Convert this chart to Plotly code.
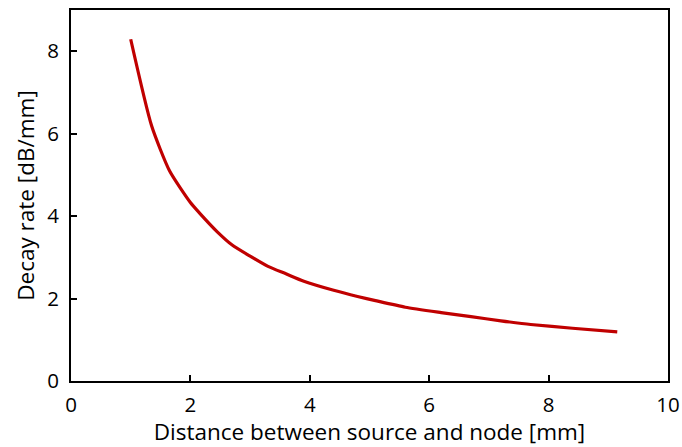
import plotly.graph_objects as go

# Decay rate versus source-to-node distance
distance_mm = [1.0, 1.35, 1.65, 2.0, 2.15, 2.45, 2.7, 3.0, 3.3, 3.6, 3.9,
               4.4, 4.8, 5.1, 5.6, 6.2, 6.7, 7.2, 7.7, 8.4, 9.15]
decay_db_per_mm = [8.29, 6.19, 5.10, 4.33, 4.08, 3.62, 3.30, 3.03, 2.78, 2.60, 2.42,
                   2.20, 2.05, 1.95, 1.79, 1.66, 1.56, 1.46, 1.37, 1.28, 1.19]

x_ticks = [0, 2, 4, 6, 8, 10]
y_ticks = [0, 2, 4, 6, 8]

FONT = "Open Sans, Carlito, Calibri, sans-serif"

fig = go.Figure(
    go.Scatter(
        x=distance_mm,
        y=decay_db_per_mm,
        mode="lines",
        line=dict(color="#C00000", width=3.2, shape="spline", smoothing=0.6),
        showlegend=False,
    )
)

axis_common = dict(
    showgrid=False,
    zeroline=False,
    showline=True,
    linecolor="black",
    linewidth=2,
    mirror=True,
    ticks="inside",
    ticklen=6,
    tickwidth=1.5,
    tickcolor="black",
    automargin=False,
    tickfont=dict(family=FONT, size=20.5, color="black"),
)

fig.update_xaxes(
    range=[0, 10],
    tickvals=x_ticks,
    ticklabelstandoff=4,
    title=dict(text="Distance between source and node [mm]",
               font=dict(family=FONT, size=22.5, color="black"), standoff=3),
    **axis_common,
)
fig.update_yaxes(
    range=[0, 9],
    tickvals=y_ticks,
    ticklabelstandoff=6,
    title=dict(text="Decay rate [dB/mm]",
               font=dict(family=FONT, size=22.5, color="black"), standoff=6),
    **axis_common,
)

fig.update_layout(
    width=682,
    height=447,
    margin=dict(l=71, r=14, t=10, b=66),
    paper_bgcolor="white",
    plot_bgcolor="white",
)

fig.write_html("out.html")
